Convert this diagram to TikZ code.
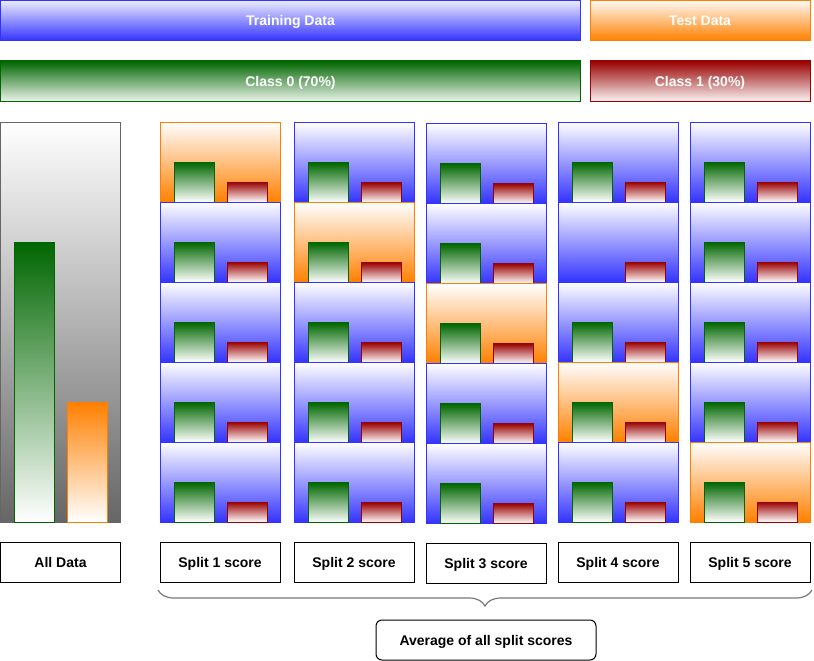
\documentclass[tikz,border=0pt]{standalone}
\usepackage{fontspec}
\setmainfont{Liberation Sans}
\usetikzlibrary{decorations.pathreplacing,calc}
\definecolor{cblue}{HTML}{3333FF}
\definecolor{corange}{HTML}{FF8000}
\definecolor{cgreen}{HTML}{006600}
\definecolor{cred}{HTML}{990000}
\definecolor{cgray}{HTML}{666666}
\definecolor{cbrace}{HTML}{777777}
\tikzset{
  box/.style={draw, line width=1pt, inner sep=0pt, outer sep=0pt, anchor=north west,
    font=\fontsize{14}{16}\selectfont\bfseries, text height=10pt, text depth=0pt},
  topbar/.style={box, minimum height=40pt, text=white},
  cellbox/.style={box, minimum width=120pt, minimum height=80pt, draw=#1, top color=white, bottom color=#1},
  greenbar/.style={box, draw=cgreen, top color=cgreen, bottom color=white, minimum width=40pt},
  redbar/.style={box, draw=cred, top color=cred, bottom color=white, minimum width=40pt, minimum height=20pt},
  labelbox/.style={box, draw=black, minimum width=120pt, minimum height=40pt, text=black},
}
\begin{document}
\begin{tikzpicture}[x=1pt,y=-1pt]
\useasboundingbox (0,0) rectangle (814,661);
% top bars
\node[topbar, draw=cblue, top color=cblue!10, bottom color=cblue, minimum width=580pt] (train) at (0.5,0.5) {Training Data};
\node[topbar, draw=corange, top color=corange!5, bottom color=corange, minimum width=220pt] (test) at (590,0.5) {Test Data};
\node[topbar, draw=cgreen, top color=cgreen, bottom color=cgreen!8, minimum width=580pt] (class0) at (0.5,61) {Class 0 (70\%)};
\node[topbar, draw=cred, top color=cred, bottom color=cred!5, minimum width=220pt] (class1) at (590,61) {Class 1 (30\%)};
% all data
\node[box, draw=cgray, top color=white, bottom color=cgray, minimum width=120pt, minimum height=400pt] (all) at (0.5,122) {};
\node[greenbar, minimum height=280pt] (allg) at (14,242) {};
\node[box, draw=corange, top color=corange, bottom color=white, minimum width=40pt, minimum height=120pt] (allo) at (67,402) {};
\node[labelbox] (alllabel) at (0.5,542) {All Data};
% split columns
\foreach \i/\x/\y in {1/160/122,2/294/122.5,3/426/123.5,4/558/122,5/690/122}{
  \foreach \j in {1,...,5}{
    \ifnum\i=\j \def\cc{corange}\else\def\cc{cblue}\fi
    \node[cellbox=\cc] (cell-\i-\j) at (\x,{\y+80*(\j-1)}) {};
    \ifnum\i=4 \ifnum\j=2 \else
      \node[greenbar, minimum height=40pt] (g-\i-\j) at ({\x+14},{\y+80*(\j-1)+40}) {};
    \fi\else
      \node[greenbar, minimum height=40pt] (g-\i-\j) at ({\x+14},{\y+80*(\j-1)+40}) {};
    \fi
    \node[redbar] (r-\i-\j) at ({\x+67},{\y+80*(\j-1)+60}) {};
  }
}
% score boxes
\foreach \i/\x/\y in {1/160/542,2/294/542,3/426/543.5,4/558/542,5/690/542}{
  \node[labelbox] (s\i) at (\x,\y) {Split \i\ score};
}
% brace
\draw[cbrace, line width=1.2pt, decorate, decoration={brace, mirror, amplitude=16pt}]
  ($(s1.south west)+(-2,8)$) -- ($(s5.south east)+(2,8)$);
\node[labelbox, rounded corners=6pt, minimum width=220pt] (avg) at (376,620) {Average of all split scores};
\end{tikzpicture}
\end{document}
